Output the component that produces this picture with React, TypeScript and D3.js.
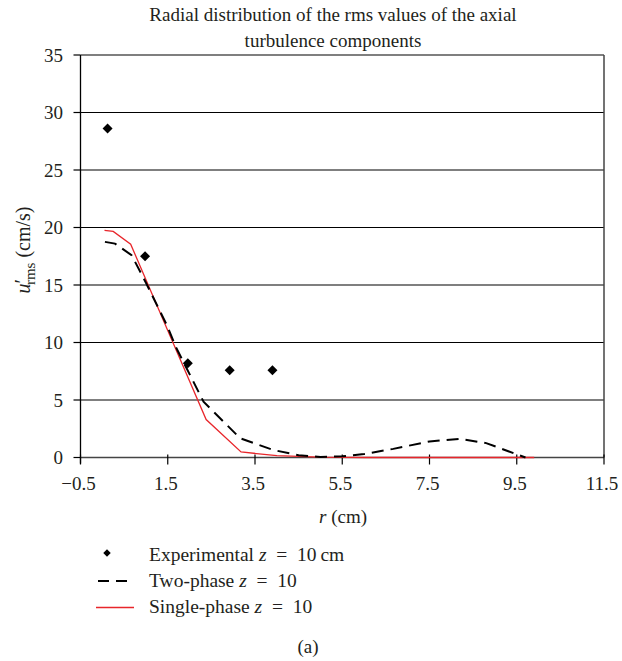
import React from "react";
import * as d3 from "d3";

const expR = [0.12, 0.98, 1.96, 2.92, 3.9];
const expU = [28.6, 17.5, 8.2, 7.58, 7.58];

const twoR = [0.06, 0.29, 0.67, 1.0, 1.48, 1.7, 2.32, 3.16, 3.92, 4.5, 5.0, 5.5, 6.0, 6.67, 7.5, 8.2, 8.8, 9.7];
const twoU = [18.75, 18.6, 17.6, 15.2, 11.5, 9.5, 4.85, 1.67, 0.65, 0.2, 0.05, 0.1, 0.3, 0.75, 1.4, 1.63, 1.25, 0.0];

const oneR = [0.05, 0.25, 0.65, 1.5, 2.38, 3.18, 4.0, 5.0, 6.0, 7.0, 8.0, 9.0, 9.9];
const oneU = [19.75, 19.66, 18.55, 11.05, 3.3, 0.48, 0.16, 0.03, 0.0, 0.0, 0.0, 0.0, 0.0];

const xTicks = [-0.5, 1.5, 3.5, 5.5, 7.5, 9.5, 11.5];
const yTicks = [0, 5, 10, 15, 20, 25, 30, 35];

const legendLabels = ["Experimental", "Two-phase", "Single-phase"];

const W = 622;
const H = 661;
const left = 80.5;
const right = 604;
const top = 55;
const bottom = 457.5;
const font = "'Liberation Serif', 'Times New Roman', serif";
const fs = 19;
const txt = "#231f20";
const eq = "\u2002=\u2002";

export default function App() {
  const x = d3.scaleLinear().domain([-0.5, 11.5]).range([left, right]);
  const y = d3.scaleLinear().domain([0, 35]).range([bottom, top]);

  const line = d3
    .line<[number, number]>()
    .x((d) => x(d[0]))
    .y((d) => y(d[1]));

  const twoPath = line(twoR.map((r, i) => [r, twoU[i]]) as [number, number][]) || "";
  const onePath = line(oneR.map((r, i) => [r, oneU[i]]) as [number, number][]) || "";
  const diamond = d3.symbol().type(d3.symbolDiamond2).size(64)() || "";

  const fmt = (v: number) => (v < 0 ? "\u22120.5" : String(v));

  return (
    <svg
      width={W}
      height={H}
      style={{ position: "absolute", left: 0, top: 0, background: "#fff" }}
      fontFamily={font}
    >
      <rect x={0} y={0} width={W} height={H} fill="#fff" />
      {/* title */}
      <text x={333} y={21} textAnchor="middle" fontSize={fs} fill={txt}>
        Radial distribution of the rms values of the axial
      </text>
      <text x={333} y={47} textAnchor="middle" fontSize={fs} fill={txt}>
        turbulence components
      </text>

      {/* gridlines */}
      {yTicks
        .filter((t) => t > 0)
        .map((t) => (
          <line key={"g" + t} x1={left} x2={right} y1={y(t)} y2={y(t)} stroke="#000" strokeWidth={1.2} />
        ))}
      {/* right border */}
      <line x1={right} x2={right} y1={top} y2={bottom} stroke="#444" strokeWidth={1.5} />
      {/* x axis */}
      <line x1={left} x2={right} y1={bottom} y2={bottom} stroke="#444" strokeWidth={1.5} />
      {/* y axis */}
      <line x1={left} x2={left} y1={top} y2={bottom + 6} stroke="#000" strokeWidth={1.3} />

      {yTicks.map((t) => (
        <g key={"y" + t}>
          <line x1={left - 7} x2={left} y1={y(t)} y2={y(t)} stroke="#000" strokeWidth={1.2} />
          <text x={63} y={y(t) + 6.5} textAnchor="end" fontSize={fs} fill={txt}>
            {t}
          </text>
        </g>
      ))}
      {xTicks.map((t) => (
        <g key={"x" + t}>
          <line x1={x(t)} x2={x(t)} y1={bottom - 3} y2={bottom + 7} stroke="#000" strokeWidth={1.2} />
          <text x={x(t) - 2} y={490} textAnchor="middle" fontSize={fs} fill={txt}>
            {fmt(t)}
          </text>
        </g>
      ))}

      {/* axis labels */}
      <text x={343} y={523} textAnchor="middle" fontSize={fs} fill={txt}>
        <tspan fontStyle="italic">r</tspan> (cm)
      </text>
      <text transform="translate(30,250) rotate(-90)" textAnchor="middle" fontSize={20} fill={txt}>
        <tspan fontStyle="italic">u</tspan>
        <tspan dy={-1}>{"\u2032"}</tspan>
        <tspan dx={-6} dy={6} fontSize={15}>rms</tspan>
        <tspan dy={-5}> (cm/s)</tspan>
      </text>

      {/* series */}
      <path d={onePath} fill="none" stroke="#e8262b" strokeWidth={1.3} />
      <path d={twoPath} fill="none" stroke="#000" strokeWidth={2} strokeDasharray="12,7" />
      {expR.map((r, i) => (
        <path key={"e" + i} d={diamond} transform={`translate(${x(r)},${y(expU[i])})`} fill="#000" />
      ))}

      {/* legend */}
      <path d={d3.symbol().type(d3.symbolDiamond2).size(36)() || ""} transform="translate(107,553)" fill="#000" />
      <text x={149} y={561} fontSize={19.5} fill={txt}>
        {legendLabels[0]} <tspan fontStyle="italic">z</tspan>{eq}10{"\u2009"}cm
      </text>
      <line x1={98} x2={134} y1={581} y2={581} stroke="#000" strokeWidth={2} strokeDasharray="11,7" />
      <text x={149} y={587} fontSize={19.5} fill={txt}>
        {legendLabels[1]} <tspan fontStyle="italic">z</tspan>{eq}10
      </text>
      <line x1={96} x2={134} y1={607.5} y2={607.5} stroke="#e8262b" strokeWidth={1.3} />
      <text x={149} y={613} fontSize={19.5} fill={txt}>
        {legendLabels[2]} <tspan fontStyle="italic">z</tspan>{eq}10
      </text>

      <text x={308} y={653} textAnchor="middle" fontSize={fs} fill={txt}>
        (a)
      </text>
    </svg>
  );
}
